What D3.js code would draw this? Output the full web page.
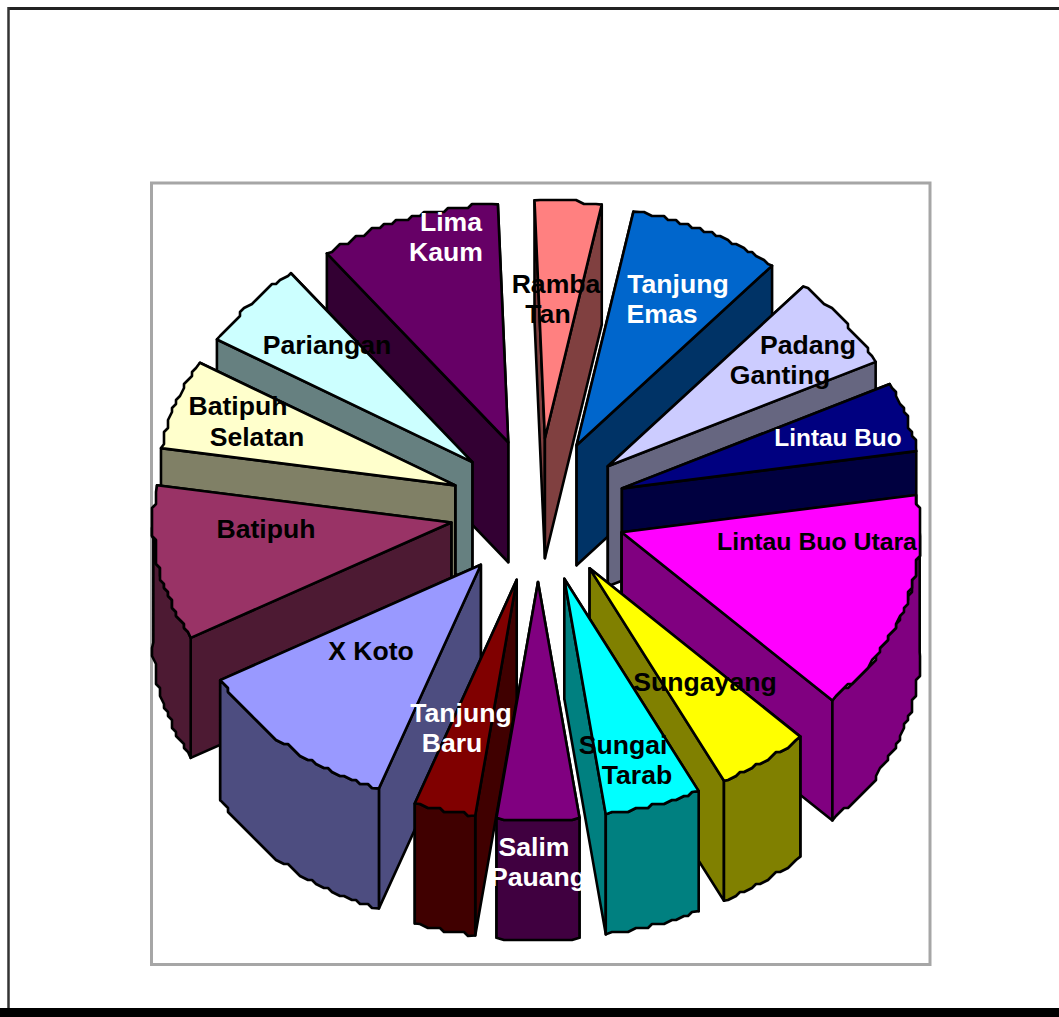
<!DOCTYPE html>
<html>
<head>
<meta charset="utf-8">
<script src="https://cdnjs.cloudflare.com/ajax/libs/d3/7.8.5/d3.min.js"></script>
<style>
  html, body { margin: 0; padding: 0; background: #fff; }
  text { font-family: "Liberation Sans", Arial, sans-serif; font-weight: bold; }
</style>
</head>
<body>
<div id="chart"></div>
<script>
// clockwise from just left of 12 o'clock
var categories = ["Ramba Tan", "Tanjung Emas", "Padang Ganting", "Lintau Buo", "Lintau Buo Utara",
  "Sungayang", "Sungai Tarab", "Salim Pauang", "Tanjung Baru", "X Koto",
  "Batipuh", "Batipuh Selatan", "Pariangan", "Lima Kaum"];
var values = [13, 30, 23, 17, 54, 18.2, 18.8, 16, 12, 41, 38, 22, 21.5, 35.5];
var topColors = ["#ff8080", "#0066cc", "#ccccff", "#000080", "#ff00ff",
  "#ffff00", "#00ffff", "#800080", "#800000", "#9999ff",
  "#993366", "#ffffcc", "#ccffff", "#660066"];

// label text, split the way the chart wraps it
var labelLines = [["Ramba", "Tan"], ["Tanjung", "Emas"], ["Padang", "Ganting"], ["Lintau Buo"], ["Lintau Buo Utara"],
  ["Sungayang"], ["Sungai", "Tarab"], ["Salim", "Pauang"], ["Tanjung", "Baru"], ["X Koto"],
  ["Batipuh"], ["Batipuh", "Selatan"], ["Pariangan"], ["Lima", "Kaum"]];
var labelColors = ["#000", "#fff", "#000", "#fff", "#000", "#000", "#000", "#fff", "#fff", "#000", "#000", "#000", "#000", "#fff"];

var W = 1059, H = 1017;
var cx = 538, cy = 510;
var rx = 298, ry = 238;        // top face radius on screen
var ex = 88, ey = 72;          // how far slices are pulled out
var depth = 120;
var rimGrid = 4;               // the rim in the original is stair stepped

// x and y centres of each label line, same order as labelLines
var labelX = [[556, 548], [678, 662], [808, 780], [838], [817], [705], [623, 637], [534, 538], [461, 452], [371], [266], [238, 257], [327], [451, 446]];
var labelY = [[284, 314], [284, 314], [345, 375], [437], [541], [682], [745, 775], [847, 877], [713, 743], [651], [529], [406, 437], [345], [222, 252]];
var labelSize = [26.6, 26.6, 26.6, 24.4, 24.8, 26.6, 26.6, 26.6, 26.6, 26.6, 26.6, 26.6, 26.6, 26.6];

var svg = d3.select("#chart").append("svg")
  .attr("width", W)
  .attr("height", H)
  .style("display", "block");

// outer frame
svg.append("line").attr("x1", 8).attr("x2", W).attr("y1", 8.5).attr("y2", 8.5)
  .attr("stroke", "#222").attr("stroke-width", 3);
svg.append("line").attr("x1", 8.5).attr("x2", 8.5).attr("y1", 7).attr("y2", H)
  .attr("stroke", "#333").attr("stroke-width", 2.5);
svg.append("rect").attr("x", 0).attr("y", 1008).attr("width", W).attr("height", 9).attr("fill", "#000");

// plot area box
svg.append("rect").attr("x", 151.5).attr("y", 183).attr("width", 778.5).attr("height", 781.5)
  .attr("fill", "none").attr("stroke", "#a6a6a6").attr("stroke-width", 3);

var pie = d3.pie().sort(null).value(function(d) { return d; })
  .startAngle(-2 * Math.PI / 180)
  .endAngle(358 * Math.PI / 180);
var arcs = pie(values);

function apex(d) {
  var m = (d.startAngle + d.endAngle) / 2;
  return [cx + ex * Math.sin(m), cy - ey * Math.cos(m)];
}

function rimPoint(d, a) {
  var o = apex(d);
  return [o[0] + rx * Math.sin(a), o[1] - ry * Math.cos(a)];
}

// points along the rim between two angles, snapped to a coarse grid
function rim(d, a0, a1) {
  var step = 1.2 * Math.PI / 180;
  var n = Math.max(1, Math.round((a1 - a0) / step));
  var pts = [];
  for (var i = 0; i <= n; i++) {
    var p = rimPoint(d, a0 + (a1 - a0) * i / n);
    if (i > 0 && i < n) {
      p = [Math.round(p[0] / rimGrid) * rimGrid, Math.round(p[1] / rimGrid) * rimGrid];
    }
    pts.push(p);
  }
  return pts;
}

function down(p) { return [p[0], p[1] + depth]; }

var line = d3.line().curve(d3.curveLinearClosed);

var slices = arcs.map(function(d, i) { return { arc: d, i: i, y: apex(d)[1] }; })
  .sort(function(a, b) { return a.y - b.y; });

slices.forEach(function(s) {
  var d = s.arc;
  var top = topColors[s.i];
  var c = d3.rgb(top);
  var side = d3.rgb(c.r / 2, c.g / 2, c.b / 2).formatHex();
  var o = apex(d);
  var g = svg.append("g")
    .attr("stroke", "#000")
    .attr("stroke-width", 2.6)
    .attr("stroke-linejoin", "round");

  // cut faces, the one further back first
  var p0 = rimPoint(d, d.startAngle), p1 = rimPoint(d, d.endAngle);
  var faces = [p0, p1].sort(function(a, b) { return a[1] - b[1]; });
  faces.forEach(function(p) {
    g.append("path").attr("fill", side)
      .attr("d", line([o, p, down(p), down(o)]));
  });

  // outer wall, only the part that faces the viewer
  var a0 = Math.max(d.startAngle, Math.PI / 2);
  var a1 = Math.min(d.endAngle, 3 * Math.PI / 2);
  if (a1 > a0) {
    var upper = rim(d, a0, a1);
    g.append("path").attr("fill", side)
      .attr("d", line(upper.concat(upper.map(down).reverse())));
  }

  // top face
  g.append("path").attr("fill", top)
    .attr("d", line([o].concat(rim(d, d.startAngle, d.endAngle))));
});

// labels go on top of everything
labelLines.forEach(function(lines, i) {
  lines.forEach(function(t, j) {
    svg.append("text")
      .attr("x", labelX[i][j])
      .attr("y", labelY[i][j])
      .attr("dy", "0.35em")
      .attr("text-anchor", "middle")
      .attr("font-size", labelSize[i])
      .attr("fill", labelColors[i])
      .text(t);
  });
});
</script>
</body>
</html>
